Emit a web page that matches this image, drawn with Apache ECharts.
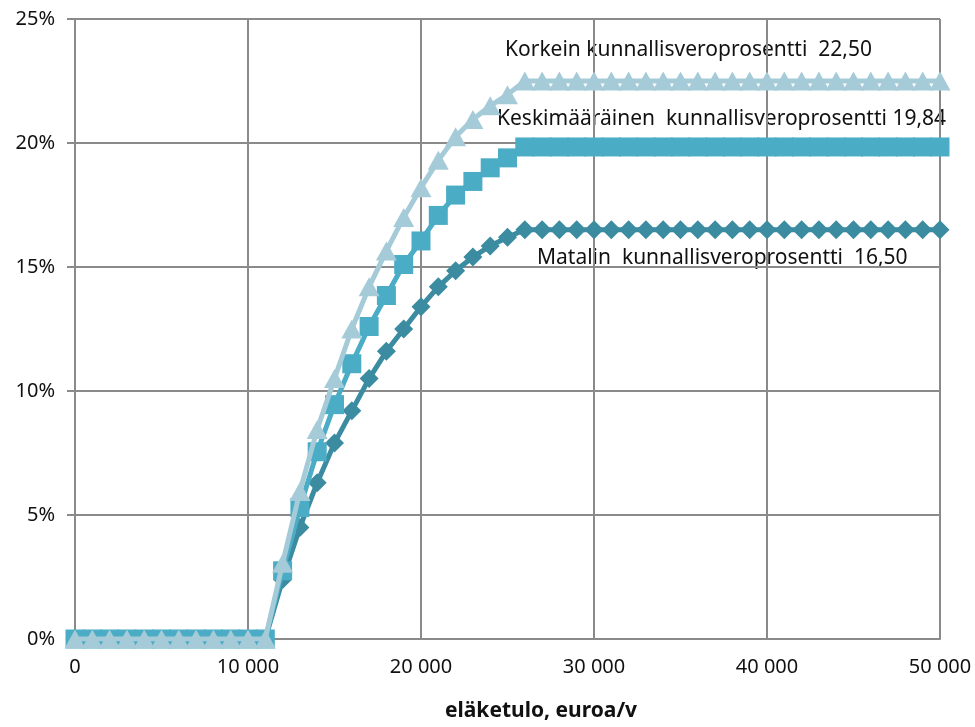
<!DOCTYPE html>
<html>
<head>
<meta charset="utf-8">
<script src="https://cdn.jsdelivr.net/npm/echarts@6/dist/echarts.min.js"></script>
<style>html,body{margin:0;padding:0;background:#fff}#c{width:975px;height:727px}</style>
</head>
<body>
<div id="c"></div>
<script>
var incomes = [];
for (var i = 0; i <= 50; i++) incomes.push(i * 1000);

var matalin = [0,0,0,0,0,0,0,0,0,0,0,0,
  2.4,4.5,6.3,7.9,9.2,10.5,11.6,12.5,13.4,14.2,14.85,15.4,15.85,16.2,
  16.5,16.5,16.5,16.5,16.5,16.5,16.5,16.5,16.5,16.5,16.5,16.5,16.5,16.5,16.5,16.5,16.5,16.5,16.5,16.5,16.5,16.5,16.5,16.5,16.5];
var keskim = [0,0,0,0,0,0,0,0,0,0,0,0,
  2.75,5.3,7.55,9.45,11.1,12.6,13.85,15.1,16.05,17.08,17.9,18.45,19.0,19.4,
  19.84,19.84,19.84,19.84,19.84,19.84,19.84,19.84,19.84,19.84,19.84,19.84,19.84,19.84,19.84,19.84,19.84,19.84,19.84,19.84,19.84,19.84,19.84,19.84,19.84];
var korkein = [0,0,0,0,0,0,0,0,0,0,0,0,
  3.05,5.95,8.45,10.5,12.5,14.2,15.65,17.0,18.2,19.3,20.25,20.95,21.5,21.95,
  22.5,22.5,22.5,22.5,22.5,22.5,22.5,22.5,22.5,22.5,22.5,22.5,22.5,22.5,22.5,22.5,22.5,22.5,22.5,22.5,22.5,22.5,22.5,22.5,22.5];

var seriesNames = ['Matalin  kunnallisveroprosentti  16,50',
                   'Keskimääräinen  kunnallisveroprosentti 19,84',
                   'Korkein kunnallisveroprosentti  22,50'];
var xAxisTitle = 'eläketulo, euroa/v';

function pairs(arr){ return incomes.map(function(x,i){ return [x, arr[i]]; }); }

var FONT = 'Noto Sans';
var chart = echarts.init(document.getElementById('c'), null, {renderer:'canvas'});
chart.setOption({
  animation: false,
  backgroundColor: '#fff',
  grid: {left: 75, right: 35, top: 19, bottom: 88, containLabel: false},
  xAxis: {
    type: 'value', min: 0, max: 50000, interval: 10000,
    axisLine: {show: true, onZero: false, lineStyle: {color: '#8a8a8a', width: 2}},
    axisTick: {show: false},
    splitLine: {show: true, lineStyle: {color: '#8a8a8a', width: 2}},
    axisLabel: {color: '#111', fontFamily: FONT, fontSize: 20, margin: 18,
      formatter: function(v){ return String(v).replace(/\B(?=(\d{3})+(?!\d))/g, ' '); }}
  },
  yAxis: {
    type: 'value', min: 0, max: 25, interval: 5,
    axisLine: {show: true, lineStyle: {color: '#8a8a8a', width: 2}},
    axisTick: {show: true, length: 8, inside: false, lineStyle: {color: '#8a8a8a', width: 2}},
    splitLine: {show: true, lineStyle: {color: '#8a8a8a', width: 2}},
    axisLabel: {color: '#111', fontFamily: FONT, fontSize: 20, margin: 20,
      formatter: function(v){ return v + '%'; }}
  },
  series: [
    {name: seriesNames[0], type: 'line', data: pairs(matalin), symbol: 'diamond', symbolSize: 19,
     showAllSymbol: true, lineStyle: {color: '#3b8ba1', width: 5}, itemStyle: {color: '#3b8ba1'}, z: 2},
    {name: seriesNames[1], type: 'line', data: pairs(keskim), symbol: 'rect', symbolSize: 19,
     showAllSymbol: true, lineStyle: {color: '#4aacc5', width: 5}, itemStyle: {color: '#4aacc5'}, z: 3},
    {name: seriesNames[2], type: 'line', data: pairs(korkein), symbol: 'triangle', symbolSize: [21,19],
     showAllSymbol: true, lineStyle: {color: '#a6cbd8', width: 5}, itemStyle: {color: '#a6cbd8'}, z: 4}
  ],
  graphic: [
    {type: 'text', left: 505, top: 40, style: {text: seriesNames[2], fill: '#111', font: '21px "' + FONT + '"'}},
    {type: 'text', left: 497, top: 109, style: {text: seriesNames[1], fill: '#111', font: '21px "' + FONT + '"'}},
    {type: 'text', left: 537, top: 248, style: {text: seriesNames[0], fill: '#111', font: '21px "' + FONT + '"'}},
    {type: 'text', left: 445, top: 701, style: {text: xAxisTitle, fill: '#111', font: 'bold 21px "' + FONT + '"'}}
  ]
});
</script>
</body>
</html>
